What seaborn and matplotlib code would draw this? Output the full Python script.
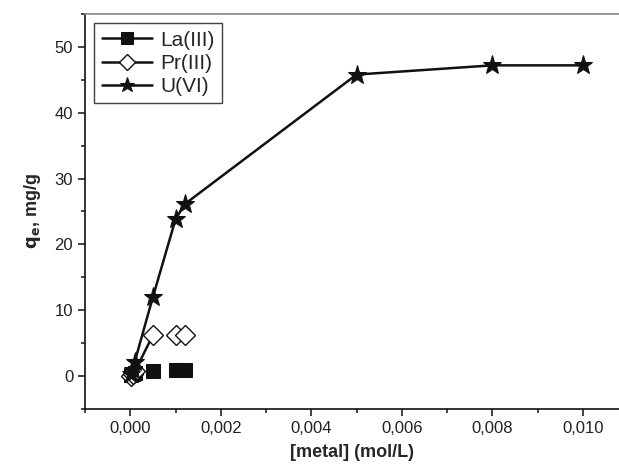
import matplotlib
matplotlib.use("Agg")
import matplotlib.pyplot as plt
import seaborn as sns

# metal concentration (mol/L) and uptake q_e (mg/g)
la_x = [0.00001, 0.00005, 0.0001, 0.0005, 0.001, 0.0012]
la_y = [0.1, 0.3, 0.4, 0.8, 1.0, 1.0]

pr_x = [0.00001, 0.00005, 0.0001, 0.0005, 0.001, 0.0012]
pr_y = [0.0, 0.3, 0.7, 6.2, 6.2, 6.2]

u_x = [0.00001, 0.00005, 0.0001, 0.0005, 0.001, 0.0012, 0.005, 0.008, 0.010]
u_y = [0.3, 1.0, 2.2, 12.0, 23.8, 26.1, 45.8, 47.2, 47.2]

x_ticks = [0.000, 0.002, 0.004, 0.006, 0.008, 0.010]
x_tick_labels = ["0,000", "0,002", "0,004", "0,006", "0,008", "0,010"]
y_ticks = [0, 10, 20, 30, 40, 50]

sns.set_theme(style="ticks")
plt.rcParams["font.family"] = ["Liberation Sans", "DejaVu Sans"]

fig = plt.figure(figsize=(6.19, 4.76), dpi=100)
ax = fig.add_axes([85 / 619, 67 / 476, 1 - 85 / 619, 395 / 476])

lw = 1.8
# La(III): connecting line only visible in the low-concentration cluster
sns.lineplot(x=la_x[:3], y=la_y[:3], ax=ax, color="#111111", lw=lw, marker="s",
             markersize=10, markeredgecolor="#111111", sort=False, estimator=None,
             label="La(III)", zorder=3)
sns.lineplot(x=la_x[3:], y=la_y[3:], ax=ax, color="#111111", lw=0, marker="s",
             markersize=10, markeredgecolor="#111111", sort=False, estimator=None,
             zorder=3)

sns.lineplot(x=pr_x[:4], y=pr_y[:4], ax=ax, color="#111111", lw=lw, marker="D",
             markersize=10, markerfacecolor="white", markeredgecolor="#111111",
             markeredgewidth=1.0, sort=False, estimator=None, label="Pr(III)",
             zorder=4)
sns.lineplot(x=pr_x[4:], y=pr_y[4:], ax=ax, color="#111111", lw=0, marker="D",
             markersize=10, markerfacecolor="white", markeredgecolor="#111111",
             markeredgewidth=1.0, sort=False, estimator=None, zorder=4)

sns.lineplot(x=u_x, y=u_y, ax=ax, color="#111111", lw=lw, marker="*",
             markersize=14, markeredgecolor="#111111", sort=False,
             estimator=None, label="U(VI)", zorder=5)

ax.set_xlim(-0.001, 0.0108)
ax.set_ylim(-5, 55)
ax.set_xticks(x_ticks)
ax.set_xticklabels(x_tick_labels)
ax.set_yticks(y_ticks)
ax.set_xticks([-0.001, 0.001, 0.003, 0.005, 0.007, 0.009], minor=True)
ax.set_yticks([-5, 5, 15, 25, 35, 45, 55], minor=True)

ax.tick_params(axis="both", which="major", direction="out", length=5, width=1.2,
               labelsize=12, colors="#222222")
ax.tick_params(axis="both", which="minor", direction="out", length=3, width=1.2)

ax.spines["right"].set_visible(False)
ax.spines["top"].set_color("#888888")
for side in ["left", "bottom"]:
    ax.spines[side].set_color("#111111")
    ax.spines[side].set_linewidth(1.2)

ax.set_xlabel("[metal] (mol/L)", fontsize=13, fontweight="bold", labelpad=6)
ax.set_ylabel(r"$\mathbf{q_e}$, mg/g", fontsize=13, fontweight="bold", labelpad=8)

leg = ax.legend(loc="upper left", fontsize=15, frameon=True, fancybox=False,
                edgecolor="#111111", handlelength=2.4, handletextpad=0.4,
                borderpad=0.35, labelspacing=0.2, borderaxespad=0.45,
                markerscale=0.8)
leg.get_frame().set_linewidth(1.0)

fig.savefig("out.png", dpi=100)
